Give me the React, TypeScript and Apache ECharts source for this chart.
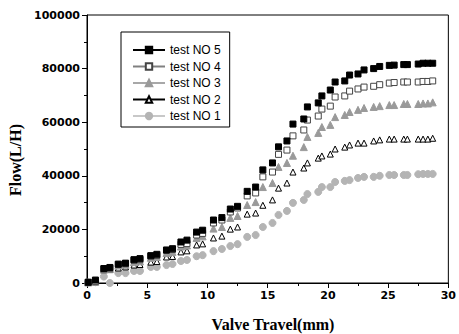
import React, { useEffect, useRef } from "react";
import * as echarts from "echarts";

const travel = [0.1, 0.7, 1.4, 1.9, 2.6, 3.2, 3.9, 4.4, 5.3, 5.8, 6.6, 7.1, 7.8, 8.3, 9.1, 9.6, 10.5, 11.2, 11.9, 12.5, 13.3, 14.0, 14.6, 15.4, 15.9, 16.6, 17.1, 18.0, 18.3, 19.2, 19.5, 20.2, 20.6, 21.4, 21.8, 22.5, 23.0, 23.8, 24.3, 25.1, 25.5, 26.3, 26.6, 27.5, 27.9, 28.3, 28.7];

const test5 = [300, 1100, 5400, 5800, 7000, 7400, 8700, 9100, 10200, 10700, 12300, 12800, 15300, 16000, 19000, 19700, 23500, 24400, 27600, 28600, 34200, 35800, 42200, 44800, 50800, 53000, 59300, 61200, 65700, 67200, 69800, 72000, 75000, 75400, 77600, 78000, 79500, 80000, 80800, 81200, 81300, 81500, 81500, 81700, 82000, 82000, 82000];
const test4 = [200, 600, 5200, 5500, 7000, 7200, 8500, 8700, 10000, 10300, 12200, 12500, 14400, 14700, 17900, 18500, 22400, 23500, 26500, 28000, 32500, 33600, 39600, 41400, 48000, 49600, 54900, 57100, 60800, 62300, 64900, 66000, 69400, 69800, 71600, 72400, 73100, 73400, 74000, 74600, 74800, 75000, 75000, 75000, 75200, 75200, 75400];
const test3 = [200, 500, 5000, 5300, 6500, 6800, 7800, 8100, 9400, 9700, 11200, 11600, 13600, 14000, 16800, 17400, 20300, 20900, 24300, 25000, 29100, 30200, 35800, 37300, 43300, 44800, 47500, 50700, 54500, 56000, 58200, 59000, 61900, 62700, 63800, 64600, 65300, 65700, 66000, 66400, 66400, 66800, 66800, 66800, 67000, 67000, 67400];
const test2 = [200, 400, 4900, 5000, 5600, 6000, 6700, 6900, 7800, 8000, 9700, 9900, 11600, 12000, 14200, 14600, 16800, 17500, 20100, 20900, 25700, 26100, 29000, 31000, 35400, 37300, 41400, 42900, 44800, 46600, 47400, 48100, 50000, 50700, 51500, 52200, 52200, 53000, 53400, 53700, 53700, 53700, 53700, 53700, 53700, 53700, 54000];
const test1 = [200, 300, 2400, 0, 3700, 3700, 4500, 4500, 6000, 6000, 6700, 7100, 8200, 8600, 10000, 10400, 11900, 12700, 13800, 14500, 17200, 17900, 20900, 22400, 25400, 26900, 29900, 31000, 33200, 34000, 35800, 35800, 37700, 38100, 38400, 39200, 39600, 39600, 40000, 40300, 40300, 40300, 40300, 40600, 40700, 40700, 40700];

const seriesNames = ["test NO 5", "test NO 4", "test NO 3", "test NO 2", "test NO 1"];
const xTitle = "Valve Travel(mm)";
const yTitle = "Flow(L/H)";

const pairs = (ys: number[]) => travel.map((x, i) => [x, ys[i]]);

export default function App() {
  const ref = useRef<HTMLDivElement>(null);
  useEffect(() => {
    if (!ref.current) return;
    const chart = echarts.init(ref.current, undefined, { renderer: "svg" });
    const mk = (
      name: string,
      data: number[],
      symbol: string,
      size: number,
      fill: string,
      border: string,
      lineColor: string
    ) => ({
      type: "line",
      name,
      data: pairs(data),
      symbol,
      symbolSize: size,
      showAllSymbol: true,
      itemStyle: { color: fill, borderColor: border, borderWidth: 1, opacity: 1 },
      lineStyle: { color: lineColor, width: 1.5, opacity: 0 },
      emphasis: { disabled: true },
    });
    const labelStyle = {
      fontFamily: "DejaVu Sans",
      fontWeight: "bold",
      fontSize: 11,
      color: "#000",
      margin: 7,
    };
    const titleFont = "bold 16px 'Liberation Serif', 'Times New Roman', serif";
    chart.setOption({
      animation: false,
      backgroundColor: "#fff",
      grid: {
        left: 87,
        right: 7,
        top: 15,
        bottom: 51,
        show: true,
        borderColor: "#000",
        borderWidth: 1,
        backgroundColor: "transparent",
      },
      legend: {
        orient: "vertical",
        left: 121,
        top: 32,
        padding: [11, 9, 4, 11],
        itemGap: 2.5,
        itemWidth: 32,
        itemHeight: 8,
        borderColor: "#000",
        borderWidth: 1,
        lineStyle: { opacity: 1 },
        textStyle: {
          fontFamily: "Liberation Sans, Arial",
          fontSize: 12,
          color: "#000",
          lineHeight: 14,
        },
        data: seriesNames,
      },
      graphic: [
        {
          type: "text",
          x: 273,
          y: 324,
          style: {
            text: xTitle,
            font: titleFont,
            fill: "#000",
            textAlign: "center",
            textVerticalAlign: "middle",
          },
        },
        {
          type: "text",
          x: 15.5,
          y: 160,
          rotation: Math.PI / 2,
          style: {
            text: yTitle,
            font: titleFont,
            fill: "#000",
            textAlign: "center",
            textVerticalAlign: "middle",
          },
        },
      ],
      xAxis: {
        type: "value",
        min: 0,
        max: 30,
        interval: 5,
        axisLine: { show: true, lineStyle: { color: "#000", width: 1 } },
        axisTick: { show: true, inside: false, length: 5, lineStyle: { color: "#000" } },
        minorTick: { show: true, splitNumber: 2, length: 3, lineStyle: { color: "#000" } },
        splitLine: { show: false },
        axisLabel: { ...labelStyle, formatter: (v: number) => String(v) },
      },
      yAxis: {
        type: "value",
        min: 0,
        max: 100000,
        interval: 20000,
        axisLine: { show: true, lineStyle: { color: "#000", width: 1 } },
        axisTick: { show: true, inside: false, length: 5, lineStyle: { color: "#000" } },
        minorTick: { show: true, splitNumber: 2, length: 3, lineStyle: { color: "#000" } },
        splitLine: { show: false },
        axisLabel: { ...labelStyle, formatter: (v: number) => String(v) },
      },
      series: [
        mk(seriesNames[4], test1, "circle", 7, "#b4b4b4", "#b4b4b4", "#c8c8c8"),
        mk(seriesNames[3], test2, "triangle", 6, "#fff", "#000", "#000"),
        mk(seriesNames[2], test3, "triangle", 7, "#9a9a9a", "#9a9a9a", "#a8a8a8"),
        mk(seriesNames[1], test4, "rect", 6, "#fff", "#444", "#808080"),
        mk(seriesNames[0], test5, "rect", 6, "#000", "#000", "#000"),
      ],
    });
    return () => chart.dispose();
  }, []);
  return (
    <div
      ref={ref}
      style={{ position: "fixed", left: 0, top: 0, width: 459, height: 334 }}
    />
  );
}
